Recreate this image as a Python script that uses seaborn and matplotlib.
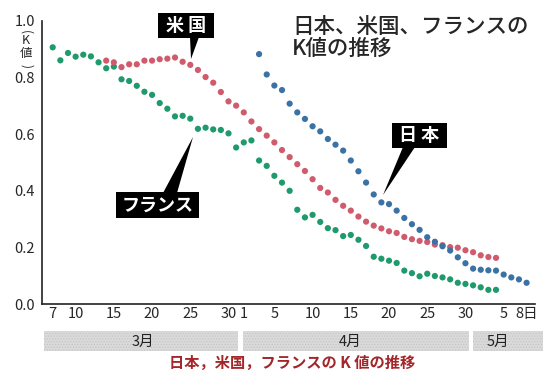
import numpy as np
import pandas as pd
import matplotlib
matplotlib.use("Agg")
import matplotlib.pyplot as plt
from matplotlib.patches import Rectangle, Polygon
from matplotlib.ticker import AutoMinorLocator, MultipleLocator
from matplotlib.transforms import blended_transform_factory
import seaborn as sns

sns.set_style("white")
plt.rcParams["font.family"] = ["Noto Sans CJK JP", "DejaVu Sans"]

# Day index: 0 = March 1, 31 = April 1, 61 = May 1
france_start = 6    # Mar 7
france_k = [0.907, 0.861, 0.887, 0.874, 0.881, 0.875, 0.854, 0.833, 0.839, 0.794,
            0.788, 0.771, 0.750, 0.739, 0.710, 0.690, 0.663, 0.665, 0.655, 0.619,
            0.623, 0.617, 0.615, 0.603, 0.553, 0.571, 0.578, 0.507, 0.488, 0.453,
            0.429, 0.400, 0.333, 0.306, 0.315, 0.290, 0.268, 0.261, 0.240, 0.244,
            0.227, 0.205, 0.167, 0.160, 0.153, 0.145, 0.118, 0.109, 0.098, 0.107,
            0.099, 0.094, 0.087, 0.075, 0.071, 0.066, 0.059, 0.050, 0.050]

us_start = 13       # Mar 14
us_k = [0.860, 0.854, 0.837, 0.847, 0.847, 0.860, 0.860, 0.865, 0.867, 0.871,
        0.856, 0.845, 0.827, 0.802, 0.782, 0.749, 0.716, 0.701, 0.677, 0.645,
        0.618, 0.595, 0.571, 0.544, 0.519, 0.494, 0.470, 0.441, 0.410, 0.394,
        0.368, 0.347, 0.330, 0.309, 0.291, 0.277, 0.267, 0.257, 0.251, 0.237,
        0.229, 0.223, 0.219, 0.210, 0.208, 0.201, 0.199, 0.190, 0.183, 0.172,
        0.166, 0.163]

japan_start = 33    # Apr 3
japan_k = [0.883, 0.811, 0.772, 0.756, 0.708, 0.677, 0.654, 0.628, 0.610, 0.583,
           0.563, 0.542, 0.507, 0.469, 0.429, 0.387, 0.359, 0.353, 0.330, 0.304,
           0.282, 0.262, 0.236, 0.220, 0.204, 0.189, 0.165, 0.144, 0.125, 0.121,
           0.119, 0.118, 0.104, 0.094, 0.087, 0.075]

tick_days = [6, 9, 14, 19, 24, 29, 31, 35, 40, 45, 50, 55, 60, 65, 68]
tick_labels = ["7", "10", "15", "20", "25", "30", "1", "5", "10", "15", "20",
               "25", "30", "5", "8日"]
months = ["3月", "4月", "5月"]
month_spans = [(4.8, 30.3), (30.9, 60.5), (61.0, 70.2)]
month_label_x = [17.8, 44.9, 64.3]

colors = {"フランス": "#1e9a6c", "米国": "#d05b6d", "日本": "#3b72a5"}

frames = []
for name, start, vals in [("フランス", france_start, france_k),
                          ("米国", us_start, us_k),
                          ("日本", japan_start, japan_k)]:
    frames.append(pd.DataFrame({"day": np.arange(start, start + len(vals)),
                                "K": vals, "country": name}))
df = pd.concat(frames, ignore_index=True)

W, H = 557, 373
fig = plt.figure(figsize=(W / 100, H / 100), dpi=100)
ax = fig.add_axes([42 / W, 1 - 304 / H, (535 - 42) / W, (304 - 21) / H])


def fpt(x, y):
    """pixel position (from top-left) -> figure fraction"""
    return (x / W, 1 - y / H)


sns.scatterplot(data=df, x="day", y="K", hue="country", palette=colors,
                s=20, linewidth=0, legend=False, ax=ax, zorder=3)

ax.set_xlim(4.6, 69.1)
ax.set_ylim(0, 1.0)
ax.set_xlabel("")
ax.set_ylabel("")
for side in ["top", "right"]:
    ax.spines[side].set_visible(False)
for side in ["left", "bottom"]:
    ax.spines[side].set_color("#222222")
    ax.spines[side].set_linewidth(1.2)

ax.set_xticks(tick_days)
ax.set_xticklabels(tick_labels)
ax.xaxis.set_minor_locator(MultipleLocator(1))
ax.set_yticks([0, 0.2, 0.4, 0.6, 0.8, 1.0])
ax.set_yticklabels(["0.0", "0.2", "0.4", "0.6", "0.8", "1.0"])
ax.yaxis.set_minor_locator(AutoMinorLocator(6))
ax.tick_params(axis="x", which="major", direction="in", length=6, width=1,
               labelsize=10.5, pad=2, color="#222222")
ax.tick_params(axis="x", which="minor", direction="in", length=2.5, width=0.8,
               color="#222222")
ax.tick_params(axis="y", which="major", direction="inout", length=8, width=1,
               labelsize=10.5, pad=1, color="#222222")
ax.tick_params(axis="y", which="minor", direction="in", length=2.5, width=0.8,
               color="#222222")

# vertical unit label (K値), brackets turned sideways
fig.text(*fpt(26, 32), "(", fontsize=8.5, ha="center", va="center", rotation=-90)
fig.text(*fpt(26, 41), "K", fontsize=9, ha="center", va="center")
fig.text(*fpt(26, 54), "値", fontsize=9, ha="center", va="center")
fig.text(*fpt(26, 66), ")", fontsize=8.5, ha="center", va="center", rotation=-90)

# title block
fig.text(*fpt(292, 27), "日本、米国、フランスの", fontsize=15.5, weight="medium",
         ha="left", va="center")
fig.text(*fpt(292, 49), "K値の推移", fontsize=15.5, weight="medium",
         ha="left", va="center")

# callout labels
callouts = [
    ("米 国", (158, 13, 214, 38), [(190, 37), (199, 37), (191, 59)]),
    ("日 本", (392, 123, 447, 148), [(403, 147), (415, 147), (383, 195)]),
    ("フランス", (116, 192, 199, 218), [(163, 193), (177, 193), (193, 137)]),
]
for label, (x0, y0, x1, y1), wedge in callouts:
    fig.patches.append(Polygon([fpt(*p) for p in wedge], closed=True,
                               facecolor="black", edgecolor="none",
                               transform=fig.transFigure, figure=fig, zorder=5))
    fig.patches.append(Rectangle(fpt(x0, y1), (x1 - x0) / W, (y1 - y0) / H,
                                 facecolor="black", edgecolor="none",
                                 transform=fig.transFigure, figure=fig, zorder=5))
    fig.text(*fpt((x0 + x1) / 2, (y0 + y1) / 2), label, color="white",
             fontsize=13, weight="bold", ha="center", va="center", zorder=6)

# month bands under the date axis
bt = blended_transform_factory(ax.transData, fig.transFigure)
plt.rcParams["hatch.linewidth"] = 0.6
for name, (a, b), lx in zip(months, month_spans, month_label_x):
    ax.add_patch(Rectangle((a, 1 - 351 / H), b - a, 20 / H, transform=bt,
                           facecolor="#dadada", edgecolor="#c6c6c6",
                           hatch="......", linewidth=0, clip_on=False))
    ax.text(lx, 1 - 342 / H, name, transform=bt, fontsize=10.5,
            ha="center", va="center", color="#222222", clip_on=False)

# caption
fig.text(*fpt(292, 363), "日本，米国，フランスの K 値の推移", color="#a3262a",
         fontsize=11, weight="bold", ha="center", va="center")

fig.savefig("out.png", dpi=100)
